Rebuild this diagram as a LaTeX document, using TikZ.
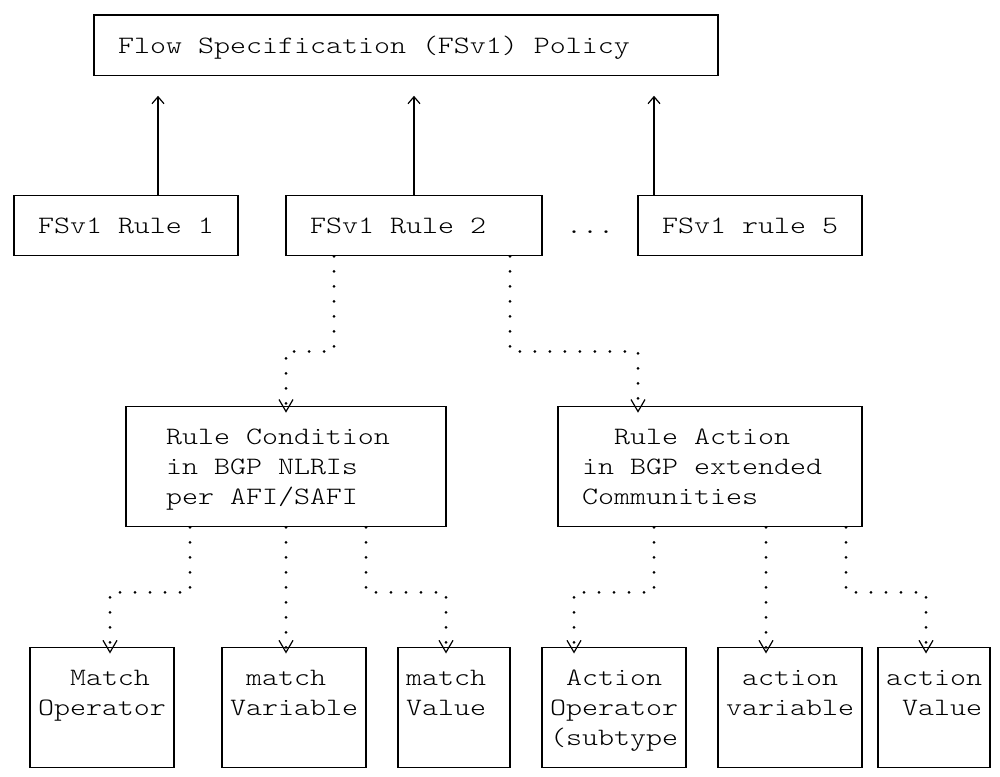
\documentclass[tikz,border=0pt]{standalone}
\usepackage{fontspec}
\newfontfamily\asciifont{lmmonolt10-regular}[Extension=.otf, FakeStretch=1.219]
\usepackage{tikz}
\usetikzlibrary{calc,arrows.meta}
% one text row of the grid, 15.05pt high, baseline 4pt under its middle
\newcommand{\rowstrut}{\rule[-3.525pt]{0pt}{15.05pt}}

\begin{document}
\begin{tikzpicture}[x=8pt, y=-15.05pt,
    txt/.style={inner sep=0pt, align=left, font=\asciifont\fontsize{12.5pt}{15.05pt}\selectfont},
    box/.style={txt, draw, line width=0.6pt},
    uplink/.style={line width=0.6pt, -{Straight Barb[length=3.5pt,width=6pt]}, shorten >=10pt},
    dotlink/.style={line width=1.5pt, line cap=round, dash pattern=on 0pt off 7.5pt,
      -{Straight Barb[length=6pt,width=7pt,line width=0.6pt]}, shorten >=-3.5pt}]
  \useasboundingbox (-0.875,-0.4983) rectangle (61.625,25.283);

  % policy and its rules
  \node[box, minimum width=312pt, minimum height=30.1pt] (policy) at (24.5,1)
    {\rowstrut Flow Specification (FSv1) Policy\hphantom{xxxx}};
  \node[box, minimum width=112pt, minimum height=30.1pt] (rule1) at (7,7) {\rowstrut FSv1 Rule 1};
  \node[box, minimum width=128pt, minimum height=30.1pt] (rule2) at (25,7) {\rowstrut FSv1 Rule 2\hphantom{xx}};
  \node[txt] (more) at (36,7) {\rowstrut ...};
  \node[box, minimum width=112pt, minimum height=30.1pt] (rule5) at (46,7) {\rowstrut FSv1 rule 5};

  % condition and action
  \node[box, minimum width=160pt, minimum height=60.2pt] (cond) at (17,15)
    {\rowstrut Rule Condition\hphantom{x}\\in BGP NLRIs\\per AFI/SAFI\rowstrut};
  \node[box, minimum width=152pt, minimum height=60.2pt] (action) at (43.5,15)
    {\rowstrut\hphantom{xx}Rule Action\\in BGP extended\hphantom{x}\\Communities\rowstrut};

  % match and action parts
  \node[box, minimum width=72pt, minimum height=60.2pt] (matchop) at (5.5,23)
    {\rowstrut\hphantom{xx}Match\\Operator\\\rowstrut};
  \node[box, minimum width=72pt, minimum height=60.2pt] (matchvar) at (17.5,23)
    {\rowstrut\hphantom{x}match\\Variable\\\rowstrut};
  \node[box, minimum width=56pt, minimum height=60.2pt] (matchval) at (27.5,23)
    {\rowstrut match\hphantom{x}\\Value\\\rowstrut};
  \node[box, minimum width=72pt, minimum height=60.2pt] (actop) at (37.5,23)
    {\rowstrut\hphantom{x}Action\\Operator\\(subtype\rowstrut};
  \node[box, minimum width=72pt, minimum height=60.2pt] (actvar) at (48.5,23)
    {\rowstrut\hphantom{x}action\\variable\\\rowstrut};
  \node[box, minimum width=56pt, minimum height=60.2pt] (actval) at (57.5,23)
    {\rowstrut action\\\hphantom{x}Value\\\rowstrut};

  % rules up to the policy
  \draw[uplink] ($(rule1.north)+(2,0)$) -- ($(policy.south)+(-15.5,0)$);
  \draw[uplink] (rule2.north) -- ($(policy.south)+(0.5,0)$);
  \draw[uplink] ($(rule5.north)+(-6,0)$) -- ($(policy.south)+(15.5,0)$);

  % rule 2 down to condition and action
  \draw[dotlink] ($(rule2.south)+(-5,0)$) |- ($(cond.north)+(0,-1.8)$) -- (cond.north);
  \draw[dotlink] ($(rule2.south)+(6,0)$) |- ($(action.north)+(-4.5,-1.8)$) -- ($(action.north)+(-4.5,0)$);

  % condition down to match parts
  \draw[dotlink] ($(cond.south)+(-6,0)$) |- ($(matchop.north)+(0.5,-1.8)$) -- ($(matchop.north)+(0.5,0)$);
  \draw[dotlink] (cond.south) -- ($(matchvar.north)+(-0.5,0)$);
  \draw[dotlink] ($(cond.south)+(5,0)$) |- ($(matchval.north)+(-0.5,-1.8)$) -- ($(matchval.north)+(-0.5,0)$);

  % action down to action parts
  \draw[dotlink] ($(action.south)+(-3.5,0)$) |- ($(actop.north)+(-2.5,-1.8)$) -- ($(actop.north)+(-2.5,0)$);
  \draw[dotlink] ($(action.south)+(3.5,0)$) -- ($(actvar.north)+(-1.5,0)$);
  \draw[dotlink] ($(action.south)+(8.5,0)$) |- ($(actval.north)+(-0.5,-1.8)$) -- ($(actval.north)+(-0.5,0)$);
\end{tikzpicture}
\end{document}
